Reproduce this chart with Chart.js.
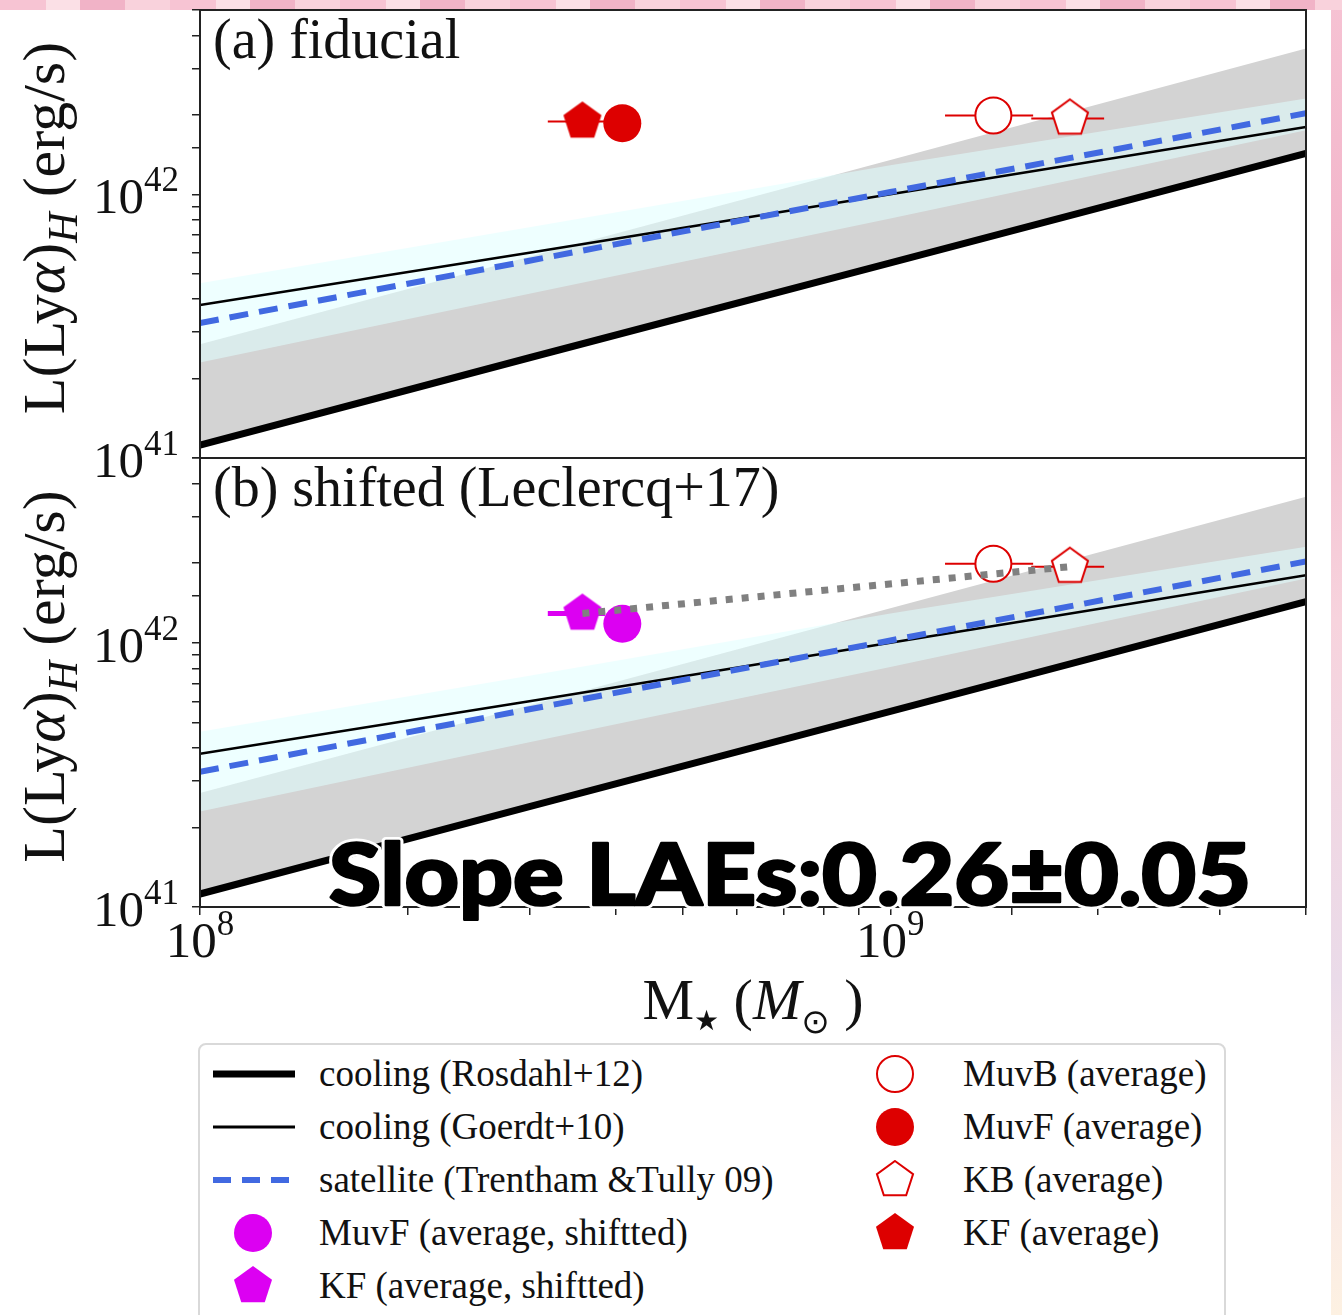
<!DOCTYPE html>
<html>
<head>
<meta charset="utf-8">
<script src="https://cdn.jsdelivr.net/npm/chart.js@4.4.1/dist/chart.umd.min.js"></script>
<style>
  body {
    margin: 0;
    width: 1342px;
    height: 1315px;
    overflow: hidden;
    position: relative;
    background: linear-gradient(180deg, #f6c2d3 0, #f2b4c9 280px, #f7d3dd 620px, #eadbe9 980px, #f8e6e6 1150px, #fdf1e2 1315px);
  }
  #topStrip {
    position: absolute; left: 0; top: 0; width: 1342px; height: 10px;
    background: repeating-linear-gradient(90deg, #f7c4d3 0 46px, #fbe0e6 46px 80px, #f1b3c7 80px 125px, #f9d2dc 125px 170px);
  }
  #sheet { position: absolute; left: 0; top: 10px; width: 1331px; height: 1305px; background: #fff; }
  canvas { position: absolute; left: 0; }
  #legend {
    position: absolute; left: 198px; top: 1043px; width: 1024px; height: 290px;
    border: 2px solid #d9d9d9; border-radius: 8px; background: #fff;
    font-family: "Liberation Serif", "Times New Roman", serif; font-size: 37px; color: #111;
  }
  .row { position: absolute; height: 50px; line-height: 50px; white-space: nowrap; }
  .row canvas { position: absolute; top: 5px; }
  .row span { position: absolute; }
</style>
</head>
<body>
<div id="topStrip"></div>
<div id="sheet"></div>
<canvas id="panelA" width="1342" height="500" style="top:0"></canvas>
<canvas id="panelB" width="1342" height="600" style="top:440px"></canvas>
<div id="legend"></div>
<script>
// Model curves, sampled on a coarse stellar-mass grid (Msun)
const massGrid = [1e8, 3e8, 1e9, 4e9];
const rosdahlLum = [1.12e41, 2.4e41, 5.5e41, 1.43e42];
const goerdtLum = [3.8e41, 6.0e41, 1.0e42, 1.8e42];
const satelliteLum = [3.25e41, 5.6e41, 1.02e42, 2.03e42];
// shaded ranges around the cooling and satellite estimates
const coolingBandHi = [2.7e41, 5.8e41, 1.35e42, 3.57e42];
const satelliteBandHi = [4.6e41, 7.5e41, 1.29e42, 2.31e42];
const satelliteBandLo = [2.3e41, 4.2e41, 8.1e41, 1.75e42];

// LAE subsample averages: MuvB, MuvF, KB, KF
const sampleNames = ['MuvB', 'MuvF', 'KB', 'KF'];
const sampleMass = [1.41e9, 4.09e8, 1.82e9, 3.58e8];
const sampleLum = [1.99e42, 1.86e42, 1.94e42, 1.89e42];
const sampleMassLo = [1.20e9, null, 1.60e9, 3.19e8];
const sampleMassHi = [1.61e9, null, 2.04e9, 3.86e8];
// faint samples after the Leclercq+17 shift
const shiftedLum = [null, 1.18e42, null, 1.29e42];

const xTickLabels = [1e8, 1e9];
const yTickLabels = [1e41, 1e42];

const RED = '#dd0000';
const MAGENTA = '#dc00f2';
const SERIF = (px, style = '') => `${style} ${px}px "Liberation Serif", "Times New Roman", serif`;

const pts = (xs, ys) => xs.map((x, i) => ({ x, y: ys[i] }));

// pentagon marker drawn once, used as a Chart.js pointStyle
function pentagon(fill, stroke, r, lw) {
  const c = document.createElement('canvas');
  const size = Math.ceil(2 * r + lw + 4);
  c.width = c.height = size;
  const g = c.getContext('2d');
  g.beginPath();
  for (let k = 0; k < 5; k++) {
    const a = -Math.PI / 2 + k * 2 * Math.PI / 5;
    const px = size / 2 + r * Math.cos(a), py = size / 2 + r * Math.sin(a);
    k ? g.lineTo(px, py) : g.moveTo(px, py);
  }
  g.closePath();
  g.fillStyle = fill;
  g.fill();
  if (stroke) { g.lineWidth = lw; g.strokeStyle = stroke; g.lineJoin = 'miter'; g.stroke(); }
  return c;
}

const penRed = pentagon(RED, null, 20, 0);
const penOpen = pentagon('#fff', RED, 19, 2);
const penMagenta = pentagon(MAGENTA, null, 20, 0);

function errBar(i, lum, color, width) {
  return {
    data: [{ x: sampleMassLo[i], y: lum }, { x: sampleMassHi[i], y: lum }],
    borderColor: color, borderWidth: width, pointRadius: 0, fill: false
  };
}

function marker(i, lum, style) {
  return Object.assign({
    label: sampleNames[i],
    data: [{ x: sampleMass[i], y: lum }],
    showLine: false, fill: false
  }, style);
}

const openCircle = { pointStyle: 'circle', pointRadius: 18, pointBorderWidth: 2, pointBorderColor: RED, pointBackgroundColor: '#fff' };
const filledCircle = c => ({ pointStyle: 'circle', pointRadius: 19, pointBorderWidth: 0, pointBackgroundColor: c });
const canvasPoint = c => ({ pointStyle: c, pointRadius: 20 });

// datasets shared by both panels, listed top-most first
function modelSets() {
  const none = { borderWidth: 0, borderColor: 'transparent', pointRadius: 0 };
  return [
    { data: pts(massGrid, satelliteLum), borderColor: '#4169e1', borderWidth: 6, borderDash: [19, 11], pointRadius: 0, fill: false },
    { data: pts(massGrid, goerdtLum), borderColor: '#000', borderWidth: 2.5, pointRadius: 0, fill: false },
    { data: pts(massGrid, rosdahlLum), borderColor: '#000', borderWidth: 7, pointRadius: 0, fill: false },
    Object.assign({ data: pts(massGrid, satelliteBandHi), backgroundColor: 'rgba(224,255,255,0.55)', fill: '+1' }, none),
    Object.assign({ data: pts(massGrid, satelliteBandLo), fill: false }, none),
    Object.assign({ data: pts(massGrid, coolingBandHi), backgroundColor: '#d3d3d3', fill: '+1' }, none),
    Object.assign({ data: pts(massGrid, rosdahlLum), fill: false }, none)
  ];
}

function fiducialSets() {
  return [
    marker(1, sampleLum[1], filledCircle(RED)),
    marker(3, sampleLum[3], canvasPoint(penRed)),
    marker(0, sampleLum[0], openCircle),
    marker(2, sampleLum[2], canvasPoint(penOpen)),
    errBar(3, sampleLum[3], RED, 2),
    errBar(0, sampleLum[0], RED, 2),
    errBar(2, sampleLum[2], RED, 2),
    ...modelSets()
  ];
}

function shiftedSets() {
  return [
    { data: [{ x: sampleMass[3], y: shiftedLum[3] }, { x: sampleMass[2], y: sampleLum[2] }],
      borderColor: '#808080', borderWidth: 7, borderDash: [7, 9], pointRadius: 0, fill: false },
    marker(1, shiftedLum[1], filledCircle(MAGENTA)),
    marker(3, shiftedLum[3], canvasPoint(penMagenta)),
    marker(0, sampleLum[0], openCircle),
    marker(2, sampleLum[2], canvasPoint(penOpen)),
    errBar(3, shiftedLum[3], MAGENTA, 5),
    errBar(0, sampleLum[0], RED, 2),
    errBar(2, sampleLum[2], RED, 2),
    ...modelSets()
  ];
}

// text made of runs with their own font and baseline shift
function drawRich(ctx, parts, x, y, align) {
  const widths = parts.map(p => { ctx.font = p.font; return ctx.measureText(p.text).width; });
  const total = widths.reduce((s, w) => s + w, 0);
  let cx = align === 'right' ? x - total : align === 'center' ? x - total / 2 : x;
  ctx.textAlign = 'left';
  ctx.textBaseline = 'alphabetic';
  parts.forEach((p, i) => {
    ctx.font = p.font;
    ctx.fillText(p.text, cx, y + (p.dy || 0));
    cx += widths[i];
  });
}

const powerParts = v => [
  { text: '10', font: SERIF(51) },
  { text: String(Math.round(Math.log10(v))), font: SERIF(35), dy: -22 }
];

const yTitle = [
  { text: 'L(Ly', font: SERIF(60) },
  { text: 'α', font: SERIF(60, 'italic') },
  { text: ')', font: SERIF(60) },
  { text: 'H', font: SERIF(42, 'italic'), dy: 13 },
  { text: ' (erg/s)', font: SERIF(60) }
];

const xTitle = [
  { text: 'M', font: SERIF(58) },
  { text: '★', font: '28px "DejaVu Sans"', dy: 11 },
  { text: ' (', font: SERIF(58) },
  { text: 'M', font: SERIF(58, 'italic') },
  { text: '⊙', font: '34px "DejaVu Sans"', dy: 14 },
  { text: ' )', font: SERIF(58) }
];

const axisText = {
  id: 'axisText',
  afterDraw(chart, args, o) {
    const { ctx, chartArea: a, scales: { x, y } } = chart;
    ctx.save();
    ctx.fillStyle = '#111';
    ctx.strokeStyle = '#222';
    ctx.lineWidth = 2;
    ctx.strokeRect(a.left, a.top, a.width, a.height);

    yTickLabels.forEach(v => drawRich(ctx, powerParts(v), a.left - 21, y.getPixelForValue(v) + 19, 'right'));

    ctx.save();
    ctx.translate(64, (a.top + a.bottom) / 2 - 6);
    ctx.rotate(-Math.PI / 2);
    drawRich(ctx, yTitle, 0, 0, 'center');
    ctx.restore();

    ctx.font = SERIF(56);
    ctx.textAlign = 'left';
    ctx.fillText(o.title, a.left + 13, a.top + 48);

    if (o.bottom) {
      xTickLabels.forEach(v => drawRich(ctx, powerParts(v), x.getPixelForValue(v), a.bottom + 50, 'center'));
      drawRich(ctx, xTitle, (a.left + a.right) / 2, a.bottom + 112, 'center');

      // slope annotation, stretched to its full width
      const label = 'Slope LAEs:0.26±0.05';
      ctx.font = '900 86px Lato, "DejaVu Sans", sans-serif';
      const w = ctx.measureText(label).width;
      ctx.translate(329, a.bottom - 2);
      ctx.scale(922 / w, 1);
      ctx.lineJoin = 'round';
      ctx.lineWidth = 8;
      ctx.strokeStyle = '#fff';
      ctx.strokeText(label, 0, 0);
      ctx.lineWidth = 2.5;
      ctx.strokeStyle = '#000';
      ctx.strokeText(label, 0, 0);
      ctx.fillStyle = '#000';
      ctx.fillText(label, 0, 0);
    }
    ctx.restore();
  }
};

function panelOptions(title, padding, showX, xHeight) {
  const grid = { drawOnChartArea: false, tickLength: 8, color: '#222', lineWidth: 1.5 };
  return {
    responsive: false,
    animation: false,
    events: [],
    layout: { padding, autoPadding: false },
    plugins: { legend: { display: false }, tooltip: { enabled: false }, axisText: { title, bottom: showX } },
    elements: { line: { tension: 0 } },
    scales: {
      x: {
        type: 'logarithmic', min: 1e8, max: 4e9, display: showX,
        afterFit: s => { s.height = xHeight; },
        ticks: { display: false, autoSkip: false },
        grid, border: { display: false }
      },
      y: {
        type: 'logarithmic', min: 1e41, max: 5e42,
        afterFit: s => { s.width = 200; },
        ticks: { display: false, autoSkip: false },
        grid, border: { display: false }
      }
    }
  };
}

new Chart(document.getElementById('panelA'), {
  type: 'line',
  data: { datasets: fiducialSets() },
  options: panelOptions('(a) fiducial', { left: 0, right: 36, top: 10, bottom: 42 }, false, 0),
  plugins: [axisText]
});

new Chart(document.getElementById('panelB'), {
  type: 'line',
  data: { datasets: shiftedSets() },
  options: panelOptions('(b) shifted (Leclercq+17)', { left: 0, right: 36, top: 18, bottom: 0 }, true, 133),
  plugins: [axisText]
});

// legend, two columns
const legendItems = [
  { label: 'cooling (Rosdahl+12)', col: 0, draw: g => line(g, '#000', 7, []) },
  { label: 'cooling (Goerdt+10)', col: 0, draw: g => line(g, '#000', 3, []) },
  { label: 'satellite (Trentham &Tully 09)', col: 0, draw: g => line(g, '#4169e1', 6, [18, 11]) },
  { label: 'MuvF (average, shiftted)', col: 0, draw: g => dot(g, MAGENTA, null) },
  { label: 'KF (average, shiftted)', col: 0, draw: g => g.drawImage(penMagenta, 45 - penMagenta.width / 2, 20 - penMagenta.height / 2) },
  { label: 'MuvB (average)', col: 1, draw: g => dot(g, '#fff', RED) },
  { label: 'MuvF (average)', col: 1, draw: g => dot(g, RED, null) },
  { label: 'KB (average)', col: 1, draw: g => g.drawImage(penOpen, 45 - penOpen.width / 2, 20 - penOpen.height / 2) },
  { label: 'KF (average)', col: 1, draw: g => g.drawImage(penRed, 45 - penRed.width / 2, 20 - penRed.height / 2) }
];

function line(g, color, width, dash) {
  g.strokeStyle = color; g.lineWidth = width; g.setLineDash(dash);
  g.beginPath(); g.moveTo(5, 20); g.lineTo(87, 20); g.stroke();
}
function dot(g, fill, stroke) {
  g.beginPath(); g.arc(45, 20, stroke ? 18 : 19, 0, 2 * Math.PI);
  g.fillStyle = fill; g.fill();
  if (stroke) { g.lineWidth = 2; g.strokeStyle = stroke; g.stroke(); }
}

const legend = document.getElementById('legend');
const rowCount = [0, 0];
legendItems.forEach(item => {
  const r = rowCount[item.col]++;
  const row = document.createElement('div');
  row.className = 'row';
  row.style.top = (4 + r * 53) + 'px';
  row.style.left = (item.col ? 650 : 8) + 'px';
  const c = document.createElement('canvas');
  c.width = 92; c.height = 40;
  c.style.left = '0px';
  item.draw(c.getContext('2d'));
  const t = document.createElement('span');
  t.textContent = item.label;
  t.style.left = (item.col ? 113 : 111) + 'px';
  row.appendChild(c);
  row.appendChild(t);
  legend.appendChild(row);
});
</script>
</body>
</html>
